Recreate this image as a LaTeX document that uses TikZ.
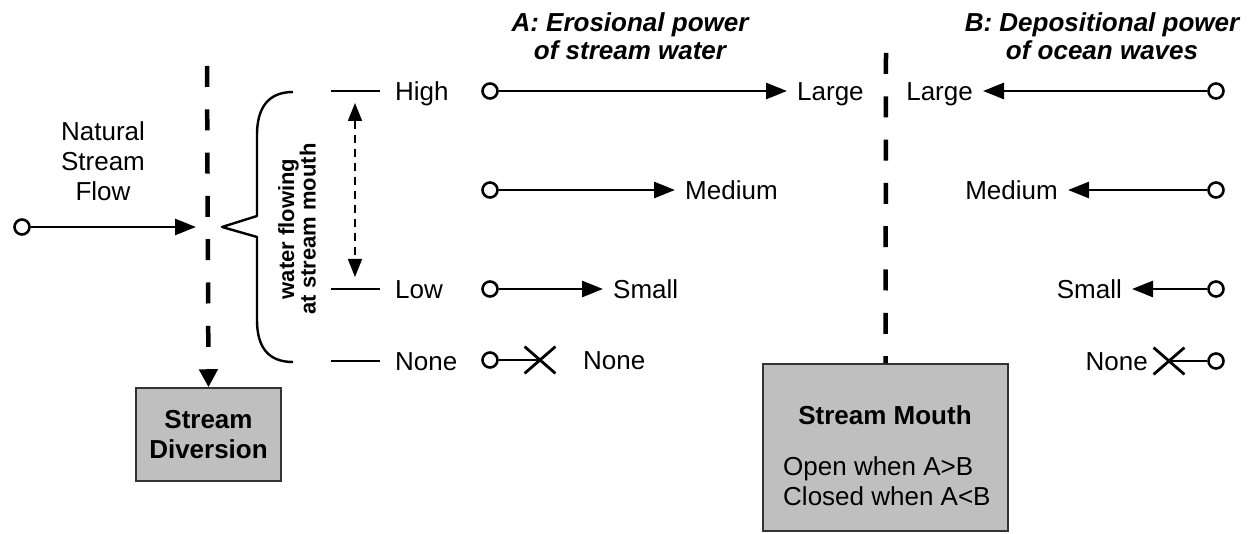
\documentclass[tikz,border=0pt]{standalone}
\usepackage{fontspec}
\setmainfont{Liberation Sans}
\usetikzlibrary{arrows.meta,shapes.misc}

\tikzset{
    txt/.style={font=\fontsize{26}{30}\selectfont, inner sep=0pt},
    lab/.style={txt, inner xsep=10pt, text height=18.6pt, text depth=0pt},
    lvl/.style={lab, inner xsep=15pt},
    src/.style={circle, draw, line width=2.6pt, fill=white, inner sep=0pt, minimum size=15pt},
    stopx/.style={cross out, draw, line width=2.8pt, minimum width=28pt, minimum height=24pt, inner sep=0pt},
    flow/.style={line width=2.6pt, -{Triangle[length=21pt,width=16pt]}},
    plainline/.style={line width=2.6pt},
    levelmark/.style={line width=2.6pt},
    spread/.style={line width=1.6pt, dash pattern=on 8pt off 6pt,
        {Triangle[length=18pt,width=14pt]}-{Triangle[length=18pt,width=14pt]},
        shorten <=12pt, shorten >=12pt},
    barrier/.style={line width=4.5pt, dash pattern=on 21pt off 22.3pt},
    graybox/.style={draw=black!80, line width=1.5pt, fill=black!25, inner sep=0pt,
        align=center, font=\fontsize{26}{30}\selectfont\bfseries},
    heading/.style={font=\fontsize{26}{28}\selectfont\bfseries\itshape, align=center, inner sep=0pt},
}

\begin{document}
\begin{tikzpicture}[x=1pt, y=-1pt]
    \useasboundingbox (0,0) rectangle (1259,534);

    % Define nodes
    \node[txt, align=center] at (103,161) (natural) {Natural\\Stream\\Flow};
    \node[src] at (22,227) (nat) {};
    \coordinate (split) at (207,227);
    \coordinate (divtop) at (207,66);
    \node[graybox, minimum width=145pt, minimum height=93pt] at (208.5,434.5) (diversion) {Stream\\Diversion};

    \node[font=\fontsize{22}{19}\selectfont\bfseries, align=center, rotate=90, inner sep=0pt] at (297,229) (wfl) {water flowing\\at stream mouth};

    \coordinate (hiT) at (331,91);
    \coordinate (loT) at (331,289);
    \coordinate (noT) at (331,361);
    \node[lvl, anchor=west] at (380,91) (high) {High};
    \node[lvl, anchor=west] at (380,289) (low) {Low};
    \node[lvl, anchor=west] at (380,361) (none) {None};
    \coordinate (rtop) at (355,91);
    \coordinate (rbot) at (355,289);

    \node[heading] at (630,36) (titleA) {A: Erosional power\\of stream water};
    \node[src] at (490,91) (aHigh) {};
    \node[src] at (490,190) (aMed) {};
    \node[src] at (490,289) (aLow) {};
    \node[src] at (490,360) (aNone) {};
    \node[lab, anchor=west] at (787,91) (aLarge) {Large};
    \node[lab, anchor=west] at (675,190) (aMedium) {Medium};
    \node[lab, anchor=west] at (603,289) (aSmall) {Small};
    \node[stopx] at (540,360) (aX) {};
    \node[lab, anchor=west] at (573,360) (aZero) {None};

    \coordinate (mouthtop) at (886,53);
    \node[graybox, minimum width=245pt, minimum height=167pt] at (885.5,447.5) (mouth) {};
    \node[txt, font=\fontsize{26}{30}\selectfont\bfseries] at (885,415) (mouthtitle) {Stream Mouth};
    \node[txt, align=left, anchor=west] at (783,481) (mouthrule) {Open when A>B\\Closed when A<B};

    \node[heading] at (1102,36) (titleB) {B: Depositional power\\of ocean waves};
    \node[src] at (1216,91) (bHigh) {};
    \node[src] at (1216,190) (bMed) {};
    \node[src] at (1216,289) (bLow) {};
    \node[src] at (1216,361) (bNone) {};
    \node[lab, anchor=east] at (983,91) (bLarge) {Large};
    \node[lab, anchor=east] at (1068,190) (bMedium) {Medium};
    \node[lab, anchor=east] at (1132,289) (bSmall) {Small};
    \node[stopx] at (1169,361) (bX) {};
    \node[lab, anchor=east] at (1158,361) (bZero) {None};

    % Draw arrows
    \draw[flow, shorten >=11pt] (nat) -- (split);
    \draw[barrier, -{Triangle[length=18pt,width=18pt]}] (divtop) -- (diversion.north);
    \draw[line width=2.4pt, line join=round] (293,92) .. controls (268,92) and (257,108) .. (257,135)
        -- (257,216) -- (222,227) -- (257,237) -- (257,320)
        .. controls (257,347) and (268,362) .. (293,362);
    \draw[levelmark] (hiT) -- (high);
    \draw[levelmark] (loT) -- (low);
    \draw[levelmark] (noT) -- (none);
    \draw[spread] (rtop) -- (rbot);

    \draw[flow] (aHigh) -- (aLarge);
    \draw[flow] (aMed) -- (aMedium);
    \draw[flow] (aLow) -- (aSmall);
    \draw[plainline] (aNone) -- (aX.center);

    \draw[barrier] (mouthtop) -- (mouth.north);

    \draw[flow] (bHigh) -- (bLarge);
    \draw[flow] (bMed) -- (bMedium);
    \draw[flow] (bLow) -- (bSmall);
    \draw[plainline] (bNone) -- (bX.center);
\end{tikzpicture}
\end{document}
